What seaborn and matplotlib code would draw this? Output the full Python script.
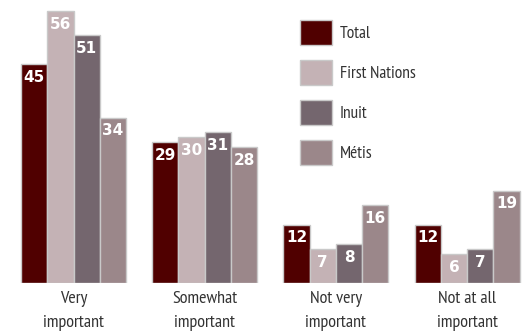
import matplotlib
matplotlib.use("Agg")
import matplotlib.pyplot as plt
import seaborn as sns
import pandas as pd
from matplotlib.patches import Patch

categories = ["Very\nimportant", "Somewhat\nimportant", "Not very\nimportant", "Not at all\nimportant"]
groups = ["Total", "First Nations", "Inuit", "Métis"]
total = [45, 29, 12, 12]
first_nations = [56, 30, 7, 6]
inuit = [51, 31, 8, 7]
metis = [34, 28, 16, 19]
colors = ["#500000", "#c4b2b5", "#74666e", "#9b878a"]

rows = []
for g, vals in zip(groups, [total, first_nations, inuit, metis]):
    for c, v in zip(categories, vals):
        rows.append({"category": c, "group": g, "value": v})
df = pd.DataFrame(rows)

sns.set_theme(style="white")
plt.rcParams['font.family'] = ['PT Sans Narrow', 'DejaVu Sans']

fig = plt.figure(figsize=(5.25, 3.31), dpi=100)
ax = fig.add_axes([0, 48/331, 1, 283/331])
sns.barplot(data=df, x="category", y="value", hue="group", palette=colors,
            order=categories, hue_order=groups, width=0.8, ax=ax, saturation=1,
            edgecolor="#c9c9c9", linewidth=1, legend=False)

ax.set_xlim(-73.5/131.2, (525-73.5)/131.2)
ax.set_ylim(0, 283/4.86)
for s in ax.spines.values():
    s.set_visible(False)
ax.set_yticks([])
ax.set_xlabel("")
ax.set_ylabel("")
ax.tick_params(axis="x", length=0, pad=6, labelsize=13, colors="#333333")
for t in ax.get_xticklabels():
    t.set_linespacing(1.62)

for cont in ax.containers:
    for p in cont:
        h = p.get_height()
        ax.annotate(f"{int(round(h))}", (p.get_x() + p.get_width()/2, h),
                    xytext=(0, -9.5), textcoords="offset points",
                    ha="center", va="center", color="white",
                    fontsize=11, fontweight="bold", family="DejaVu Sans")

handles = [Patch(facecolor=c, edgecolor="#c9c9c9", linewidth=1) for c in colors]
fig.legend(handles, groups, loc="upper left", bbox_to_anchor=(291/525, 1-11/331),
           frameon=False, borderpad=0, handlelength=1.84, handleheight=1.84,
           handletextpad=0.48, labelspacing=0.87, fontsize=12.5, labelcolor="#333333")

fig.savefig("out.png", dpi=100)
